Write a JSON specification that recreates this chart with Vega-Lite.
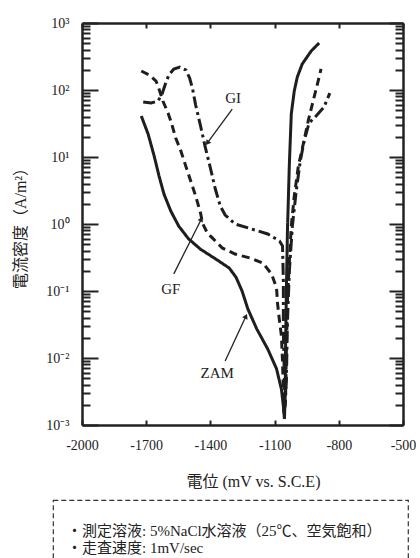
{
  "$schema": "https://vega.github.io/schema/vega-lite/v6.json",
  "padding": {"left": 12, "top": 16, "right": 0, "bottom": 0},
  "background": "white",
  "config": {"view": {"stroke": null}, "font": "Liberation Serif"},
  "spacing": 10,
  "datasets": {
    "curves": [
      {"sample": "ZAM", "seq": 0, "potential": -1723, "current": 41},
      {"sample": "ZAM", "seq": 1, "potential": -1691, "current": 22},
      {"sample": "ZAM", "seq": 2, "potential": -1663, "current": 10.4},
      {"sample": "ZAM", "seq": 3, "potential": -1640, "current": 5.2},
      {"sample": "ZAM", "seq": 4, "potential": -1617, "current": 2.8},
      {"sample": "ZAM", "seq": 5, "potential": -1585, "current": 1.56},
      {"sample": "ZAM", "seq": 6, "potential": -1548, "current": 0.93},
      {"sample": "ZAM", "seq": 7, "potential": -1502, "current": 0.6},
      {"sample": "ZAM", "seq": 8, "potential": -1446, "current": 0.42},
      {"sample": "ZAM", "seq": 9, "potential": -1368, "current": 0.29},
      {"sample": "ZAM", "seq": 10, "potential": -1312, "current": 0.22},
      {"sample": "ZAM", "seq": 11, "potential": -1280, "current": 0.16},
      {"sample": "ZAM", "seq": 12, "potential": -1252, "current": 0.1},
      {"sample": "ZAM", "seq": 13, "potential": -1225, "current": 0.054},
      {"sample": "ZAM", "seq": 14, "potential": -1183, "current": 0.027},
      {"sample": "ZAM", "seq": 15, "potential": -1132, "current": 0.0136},
      {"sample": "ZAM", "seq": 16, "potential": -1091, "current": 0.0069},
      {"sample": "ZAM", "seq": 17, "potential": -1068, "current": 0.0034},
      {"sample": "ZAM", "seq": 18, "potential": -1059, "current": 0.0019},
      {"sample": "ZAM", "seq": 19, "potential": -1054, "current": 0.00123},
      {"sample": "ZAM", "seq": 20, "potential": -1050, "current": 0.0032},
      {"sample": "ZAM", "seq": 21, "potential": -1049, "current": 0.0127},
      {"sample": "ZAM", "seq": 22, "potential": -1045, "current": 0.1},
      {"sample": "ZAM", "seq": 23, "potential": -1040, "current": 0.79},
      {"sample": "ZAM", "seq": 24, "potential": -1031, "current": 7.9},
      {"sample": "ZAM", "seq": 25, "potential": -1022, "current": 44},
      {"sample": "ZAM", "seq": 26, "potential": -1008, "current": 97},
      {"sample": "ZAM", "seq": 27, "potential": -994, "current": 156},
      {"sample": "ZAM", "seq": 28, "potential": -971, "current": 244},
      {"sample": "ZAM", "seq": 29, "potential": -929, "current": 382},
      {"sample": "ZAM", "seq": 30, "potential": -892, "current": 502},
      {"sample": "GF", "seq": 0, "potential": -1723, "current": 192},
      {"sample": "GF", "seq": 1, "potential": -1686, "current": 168},
      {"sample": "GF", "seq": 2, "potential": -1654, "current": 136},
      {"sample": "GF", "seq": 3, "potential": -1640, "current": 103},
      {"sample": "GF", "seq": 4, "potential": -1622, "current": 68.5},
      {"sample": "GF", "seq": 5, "potential": -1598, "current": 45.4},
      {"sample": "GF", "seq": 6, "potential": -1585, "current": 34.5},
      {"sample": "GF", "seq": 7, "potential": -1562, "current": 19.2},
      {"sample": "GF", "seq": 8, "potential": -1538, "current": 12.3},
      {"sample": "GF", "seq": 9, "potential": -1515, "current": 7.3},
      {"sample": "GF", "seq": 10, "potential": -1492, "current": 4.39},
      {"sample": "GF", "seq": 11, "potential": -1469, "current": 2.62},
      {"sample": "GF", "seq": 12, "potential": -1446, "current": 1.46},
      {"sample": "GF", "seq": 13, "potential": -1437, "current": 1.03},
      {"sample": "GF", "seq": 14, "potential": -1414, "current": 0.73},
      {"sample": "GF", "seq": 15, "potential": -1391, "current": 0.62},
      {"sample": "GF", "seq": 16, "potential": -1345, "current": 0.44},
      {"sample": "GF", "seq": 17, "potential": -1285, "current": 0.356},
      {"sample": "GF", "seq": 18, "potential": -1215, "current": 0.311},
      {"sample": "GF", "seq": 19, "potential": -1155, "current": 0.262},
      {"sample": "GF", "seq": 20, "potential": -1114, "current": 0.179},
      {"sample": "GF", "seq": 21, "potential": -1091, "current": 0.111},
      {"sample": "GF", "seq": 22, "potential": -1086, "current": 0.064},
      {"sample": "GF", "seq": 23, "potential": -1077, "current": 0.0356},
      {"sample": "GF", "seq": 24, "potential": -1068, "current": 0.0213},
      {"sample": "GF", "seq": 25, "potential": -1063, "current": 0.009},
      {"sample": "GF", "seq": 26, "potential": -1059, "current": 0.0032},
      {"sample": "GF", "seq": 27, "potential": -1056, "current": 0.0015},
      {"sample": "GF", "seq": 28, "potential": -1049, "current": 0.00228},
      {"sample": "GF", "seq": 29, "potential": -1045, "current": 0.0127},
      {"sample": "GF", "seq": 30, "potential": -1040, "current": 0.071},
      {"sample": "GF", "seq": 31, "potential": -1031, "current": 0.281},
      {"sample": "GF", "seq": 32, "potential": -1022, "current": 0.93},
      {"sample": "GF", "seq": 33, "potential": -1008, "current": 2.62},
      {"sample": "GF", "seq": 34, "potential": -989, "current": 7.3},
      {"sample": "GF", "seq": 35, "potential": -966, "current": 15.6},
      {"sample": "GF", "seq": 36, "potential": -943, "current": 34.5},
      {"sample": "GF", "seq": 37, "potential": -920, "current": 68.5},
      {"sample": "GF", "seq": 38, "potential": -902, "current": 115},
      {"sample": "GF", "seq": 39, "potential": -883, "current": 206},
      {"sample": "GI", "seq": 0, "potential": -1714, "current": 66.2},
      {"sample": "GI", "seq": 1, "potential": -1677, "current": 64},
      {"sample": "GI", "seq": 2, "potential": -1645, "current": 68.5},
      {"sample": "GI", "seq": 3, "potential": -1626, "current": 87},
      {"sample": "GI", "seq": 4, "potential": -1612, "current": 119},
      {"sample": "GI", "seq": 5, "potential": -1594, "current": 168},
      {"sample": "GI", "seq": 6, "potential": -1571, "current": 206},
      {"sample": "GI", "seq": 7, "potential": -1543, "current": 220},
      {"sample": "GI", "seq": 8, "potential": -1515, "current": 199},
      {"sample": "GI", "seq": 9, "potential": -1497, "current": 151},
      {"sample": "GI", "seq": 10, "potential": -1483, "current": 103},
      {"sample": "GI", "seq": 11, "potential": -1469, "current": 59.7},
      {"sample": "GI", "seq": 12, "potential": -1446, "current": 29},
      {"sample": "GI", "seq": 13, "potential": -1423, "current": 13.6},
      {"sample": "GI", "seq": 14, "potential": -1400, "current": 6.85},
      {"sample": "GI", "seq": 15, "potential": -1377, "current": 3.33},
      {"sample": "GI", "seq": 16, "potential": -1354, "current": 1.86},
      {"sample": "GI", "seq": 17, "potential": -1331, "current": 1.36},
      {"sample": "GI", "seq": 18, "potential": -1285, "current": 1.0},
      {"sample": "GI", "seq": 19, "potential": -1206, "current": 0.84},
      {"sample": "GI", "seq": 20, "potential": -1132, "current": 0.71},
      {"sample": "GI", "seq": 21, "potential": -1077, "current": 0.557},
      {"sample": "GI", "seq": 22, "potential": -1063, "current": 0.47},
      {"sample": "GI", "seq": 23, "potential": -1059, "current": 0.141},
      {"sample": "GI", "seq": 24, "potential": -1059, "current": 0.0253},
      {"sample": "GI", "seq": 25, "potential": -1054, "current": 0.0045},
      {"sample": "GI", "seq": 26, "potential": -1052, "current": 0.0019},
      {"sample": "GI", "seq": 27, "potential": -1045, "current": 0.0045},
      {"sample": "GI", "seq": 28, "potential": -1040, "current": 0.0356},
      {"sample": "GI", "seq": 29, "potential": -1031, "current": 0.199},
      {"sample": "GI", "seq": 30, "potential": -1017, "current": 0.93},
      {"sample": "GI", "seq": 31, "potential": -999, "current": 3.11},
      {"sample": "GI", "seq": 32, "potential": -980, "current": 8.7},
      {"sample": "GI", "seq": 33, "potential": -962, "current": 17.3},
      {"sample": "GI", "seq": 34, "potential": -939, "current": 32.1},
      {"sample": "GI", "seq": 35, "potential": -906, "current": 41},
      {"sample": "GI", "seq": 36, "potential": -869, "current": 55.7},
      {"sample": "GI", "seq": 37, "potential": -842, "current": 90}
    ],
    "arrows": [
      {"label": "GI", "x_from": -1298, "y_from": 52, "x_to": -1414, "y_to": 16.2},
      {"label": "GF", "x_from": -1571, "y_from": 0.18, "x_to": -1442, "y_to": 1.19},
      {"label": "ZAM", "x_from": -1331, "y_from": 0.009, "x_to": -1234, "y_to": 0.042}
    ],
    "labels": [
      {"label": "GI", "potential": -1294, "current": 76},
      {"label": "GF", "potential": -1585, "current": 0.107},
      {"label": "ZAM", "potential": -1368, "current": 0.006}
    ],
    "notes": [
      {"line": 1, "col": 0, "text": "・測定溶液: 5%NaCl水溶液（25℃、空気飽和）"},
      {"line": 2, "col": 0, "text": "・走査速度: 1mV/sec"}
    ]
  },
  "vconcat": [
    {
      "bounds": "flush",
      "spacing": 28,
      "hconcat": [
        {
          "width": 1,
          "height": 402,
          "data": {"values": [{}]},
          "mark": {"type": "point", "opacity": 0},
          "encoding": {}
        },
        {
          "width": 321,
          "height": 402,
          "resolve": {"axis": {"x": "independent", "y": "independent"}},
          "layer": [
            {
              "data": {"name": "curves"},
              "mark": {"type": "line", "strokeWidth": 3, "color": "#1e1e1e", "strokeCap": "butt"},
              "encoding": {
                "x": {
                  "field": "potential", "type": "quantitative",
                  "scale": {"domain": [-2000, -500], "nice": false, "zero": false},
                  "axis": {
                    "orient": "bottom",
                    "values": [-2000, -1700, -1400, -1100, -800, -500],
                    "labelExpr": "'' + datum.value",
                    "tickSize": -5, "tickWidth": 2, "tickColor": "#222",
                    "domainWidth": 2.5, "domainColor": "#222",
                    "labelFont": "Liberation Serif", "labelFontSize": 14, "labelColor": "#222",
                    "labelPadding": 18, "labelFlush": false, "labelOverlap": false, "grid": false,
                    "title": "電位 (mV vs. S.C.E)",
                    "titleFont": "Liberation Serif, Noto Sans CJK JP", "titleFontSize": 16,
                    "titleFontWeight": "normal", "titleColor": "#222", "titlePadding": 21, "titleX": 171
                  }
                },
                "y": {
                  "field": "current", "type": "quantitative",
                  "scale": {"type": "log", "domain": [0.001, 1000], "nice": false},
                  "axis": {
                    "orient": "left",
                    "values": [0.001, 0.002, 0.003, 0.004, 0.005, 0.006, 0.007, 0.008, 0.009, 0.01, 0.02, 0.03, 0.04, 0.05, 0.06, 0.07, 0.08, 0.09, 0.1, 0.2, 0.3, 0.4, 0.5, 0.6, 0.7, 0.8, 0.9, 1, 2, 3, 4, 5, 6, 7, 8, 9, 10, 20, 30, 40, 50, 60, 70, 80, 90, 100, 200, 300, 400, 500, 600, 700, 800, 900, 1000],
                    "labelExpr": "abs(datum.value / pow(10, round(log(datum.value) / LN10)) - 1) < 1e-6 ? ['10⁻³','10⁻²','10⁻¹','10⁰','10¹','10²','10³'][round(log(datum.value) / LN10) + 3] : ''",
                    "tickSize": {"condition": {"test": "abs(datum.value / pow(10, round(log(datum.value) / LN10)) - 1) < 1e-6", "value": -16}, "value": -8},
                    "tickWidth": 2, "tickColor": "#222",
                    "domainWidth": 2.5, "domainColor": "#222",
                    "labelFont": "Liberation Serif", "labelFontSize": 14, "labelColor": "#222",
                    "labelPadding": 29, "labelOverlap": false, "labelFlush": false, "grid": false,
                    "title": "電流密度（A/m²）",
                    "titleFont": "Liberation Serif, Noto Sans CJK JP", "titleFontSize": 16,
                    "titleFontWeight": "normal", "titleColor": "#222", "titlePadding": 17
                  }
                },
                "detail": {"field": "sample"},
                "strokeDash": {
                  "field": "sample", "type": "nominal",
                  "scale": {"domain": ["ZAM", "GF", "GI"], "range": [[1, 0], [8, 5], [12, 4, 3, 4]]},
                  "legend": null
                },
                "order": {"field": "seq", "type": "quantitative"}
              }
            },
            {
              "data": {"name": "arrows"},
              "mark": {"type": "rule", "strokeWidth": 1.3, "color": "#222"},
              "encoding": {
                "x": {
                  "field": "x_from", "type": "quantitative",
                  "scale": {"domain": [-2000, -500], "nice": false, "zero": false},
                  "axis": {
                    "orient": "top", "values": [-2000, -1700, -1400, -1100, -800, -500],
                    "labels": false, "tickSize": -5, "tickWidth": 2, "tickColor": "#222",
                    "domainWidth": 2.5, "domainColor": "#222", "grid": false, "title": null
                  }
                },
                "y": {
                  "field": "y_from", "type": "quantitative",
                  "scale": {"type": "log", "domain": [0.001, 1000], "nice": false},
                  "axis": {
                    "orient": "right",
                    "values": [0.001, 0.002, 0.003, 0.004, 0.005, 0.006, 0.007, 0.008, 0.009, 0.01, 0.02, 0.03, 0.04, 0.05, 0.06, 0.07, 0.08, 0.09, 0.1, 0.2, 0.3, 0.4, 0.5, 0.6, 0.7, 0.8, 0.9, 1, 2, 3, 4, 5, 6, 7, 8, 9, 10, 20, 30, 40, 50, 60, 70, 80, 90, 100, 200, 300, 400, 500, 600, 700, 800, 900, 1000],
                    "labels": false,
                    "tickSize": {"condition": {"test": "abs(datum.value / pow(10, round(log(datum.value) / LN10)) - 1) < 1e-6", "value": -14}, "value": -8},
                    "tickWidth": 2, "tickColor": "#222",
                    "domainWidth": 2.5, "domainColor": "#222", "grid": false, "title": null
                  }
                },
                "x2": {"field": "x_to"},
                "y2": {"field": "y_to"}
              }
            },
            {
              "data": {"name": "arrows"},
              "mark": {"type": "point", "shape": "triangle-up", "filled": true, "size": 35, "color": "#222", "opacity": 1},
              "encoding": {
                "x": {"field": "x_to", "type": "quantitative", "axis": null},
                "y": {"field": "y_to", "type": "quantitative", "axis": null},
                "angle": {
                  "condition": [
                    {"test": "datum.label === 'GI'", "value": 216},
                    {"test": "datum.label === 'GF'", "value": 27}
                  ],
                  "value": 25
                }
              }
            },
            {
              "data": {"name": "labels"},
              "mark": {"type": "text", "font": "Liberation Serif", "fontSize": 15, "color": "#222", "baseline": "middle", "align": "center"},
              "encoding": {
                "x": {"field": "potential", "type": "quantitative", "axis": null},
                "y": {"field": "current", "type": "quantitative", "axis": null},
                "text": {"field": "label"}
              }
            }
          ]
        }
      ]
    },
    {
      "width": 355,
      "height": 70,
      "view": {"stroke": "#333", "strokeDash": [5, 3], "strokeWidth": 1.2},
      "data": {"name": "notes"},
      "mark": {"type": "text", "align": "left", "baseline": "middle", "dx": 14, "fontSize": 15, "font": "Liberation Serif, Noto Sans CJK JP", "color": "#222"},
      "encoding": {
        "x": {"field": "col", "type": "quantitative", "scale": {"domain": [0, 1]}, "axis": null},
        "y": {"field": "line", "type": "ordinal", "scale": {"type": "point", "range": [31, 48], "padding": 0}, "axis": null},
        "text": {"field": "text"}
      }
    }
  ]
}
